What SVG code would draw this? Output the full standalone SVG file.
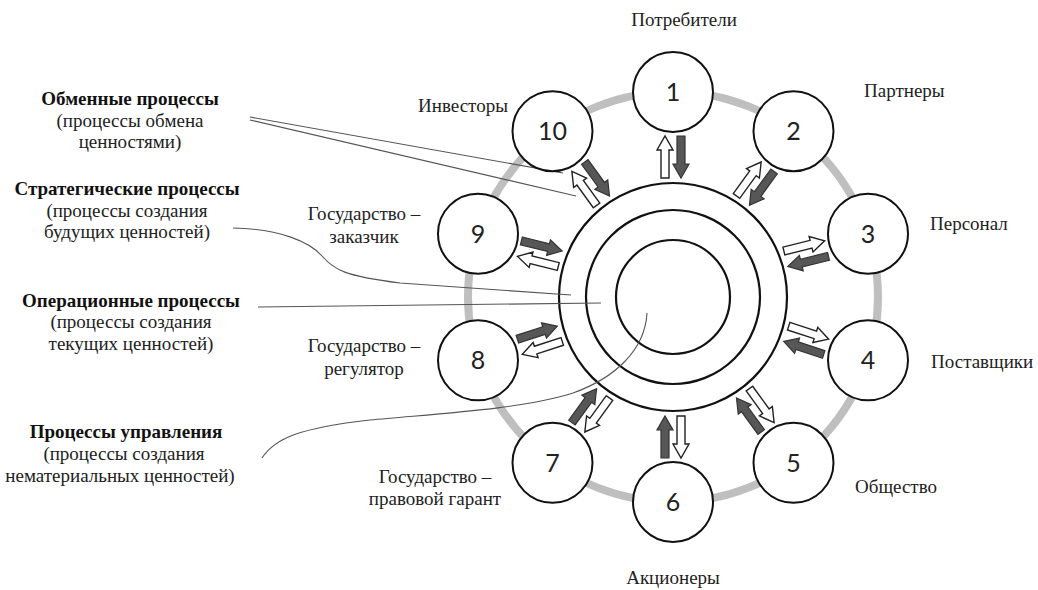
<svg xmlns="http://www.w3.org/2000/svg" xmlns:xlink="http://www.w3.org/1999/xlink" width="1038" height="590" viewBox="0 0 1038 590">
<style>
.lbl{font-family:"Liberation Serif","DejaVu Serif",serif;font-size:19px;font-weight:normal;fill:#222;text-anchor:middle}
.lbs{font-family:"Liberation Serif","DejaVu Serif",serif;font-size:19px;font-weight:normal;fill:#222;text-anchor:start}
.ttl{font-family:"Liberation Serif","DejaVu Serif",serif;font-size:19px;font-weight:bold;fill:#111;text-anchor:middle}
.num{font-family:Lato,"Liberation Sans",sans-serif;font-size:25px;fill:#222;text-anchor:middle}
.node{fill:#fff;stroke:#111;stroke-width:2}
.ring{fill:none;stroke:#111;stroke-width:2.2}
.lead{fill:none;stroke:#555;stroke-width:1.1}
.wa{fill:#fff;stroke:#222;stroke-width:1.4}
.da{fill:#575757;stroke:#333;stroke-width:1.2}
</style>
<defs>
<path id="arr" d="M-21,-4 L7,-4 L7,-8 L21,0 L7,8 L7,4 L-21,4 Z"/>
</defs>
<rect width="1038" height="590" fill="#fff"/>
<circle cx="673" cy="297" r="205" fill="none" stroke="#bfbfbf" stroke-width="8"/>
<g id="core">
<circle class="ring" cx="673" cy="297" r="114"/>
<circle class="ring" cx="673" cy="297" r="87"/>
<circle class="ring" cx="673" cy="297" r="57"/>
</g>
<g id="connectors">
<path class="lead" d="M250,117 L563,173"/>
<path class="lead" d="M250,120 L576,196"/>
<path class="lead" d="M233,228 C280,229 310,242 322,256 S345,276 400,283 L571,295"/>
<path class="lead" d="M258,307 L601,303"/>
<path class="lead" d="M262,458 C275,438 300,428 370,420 C430,414 520,410 573,393 C615,378 645,350 647,313"/>
<g id="arrows">
<use href="#arr" class="wa" transform="translate(673,157) rotate(-90) translate(0,-8)"/>
<use href="#arr" class="da" transform="translate(673,157) rotate(-90) translate(0,8) rotate(180)"/>
<use href="#arr" class="wa" transform="translate(755.3,183.7) rotate(-54) translate(0,-8)"/>
<use href="#arr" class="da" transform="translate(755.3,183.7) rotate(-54) translate(0,8) rotate(180)"/>
<use href="#arr" class="wa" transform="translate(806.2,253.7) rotate(-14) translate(0,-8)"/>
<use href="#arr" class="da" transform="translate(806.2,253.7) rotate(-14) translate(0,8) rotate(180)"/>
<use href="#arr" class="wa" transform="translate(806.2,340.3) rotate(18) translate(0,-8)"/>
<use href="#arr" class="da" transform="translate(806.2,340.3) rotate(18) translate(0,8) rotate(180)"/>
<use href="#arr" class="wa" transform="translate(755.3,410.3) rotate(54) translate(0,-8)"/>
<use href="#arr" class="da" transform="translate(755.3,410.3) rotate(54) translate(0,8) rotate(180)"/>
<use href="#arr" class="wa" transform="translate(673,437) rotate(90) translate(0,-8)"/>
<use href="#arr" class="da" transform="translate(673,437) rotate(90) translate(0,8) rotate(180)"/>
<use href="#arr" class="wa" transform="translate(590.7,410.3) rotate(126) translate(0,-8)"/>
<use href="#arr" class="da" transform="translate(590.7,410.3) rotate(126) translate(0,8) rotate(180)"/>
<use href="#arr" class="wa" transform="translate(539.8,340.3) rotate(162) translate(0,-8)"/>
<use href="#arr" class="da" transform="translate(539.8,340.3) rotate(162) translate(0,8) rotate(180)"/>
<use href="#arr" class="wa" transform="translate(539.8,253.7) rotate(194) translate(0,-8)"/>
<use href="#arr" class="da" transform="translate(539.8,253.7) rotate(194) translate(0,8) rotate(180)"/>
<use href="#arr" class="wa" transform="translate(590.7,183.7) rotate(234) translate(0,-8)"/>
<use href="#arr" class="da" transform="translate(590.7,183.7) rotate(234) translate(0,8) rotate(180)"/>
</g>
</g>
<g id="n1"><circle class="node" cx="673" cy="92" r="40"/><text class="num" x="673" y="101">1</text></g>
<g id="n2"><circle class="node" cx="793.5" cy="131.2" r="40"/><text class="num" x="793.5" y="140">2</text></g>
<g id="n3"><circle class="node" cx="868" cy="233.7" r="40"/><text class="num" x="868" y="243">3</text></g>
<g id="n4"><circle class="node" cx="868" cy="360.3" r="40"/><text class="num" x="868" y="369">4</text></g>
<g id="n5"><circle class="node" cx="793.5" cy="462.8" r="40"/><text class="num" x="793.5" y="472">5</text></g>
<g id="n6"><circle class="node" cx="673" cy="502" r="40"/><text class="num" x="673" y="511">6</text></g>
<g id="n7"><circle class="node" cx="552.5" cy="462.8" r="40"/><text class="num" x="552.5" y="472">7</text></g>
<g id="n8"><circle class="node" cx="478" cy="360.3" r="40"/><text class="num" x="478" y="369">8</text></g>
<g id="n9"><circle class="node" cx="478" cy="233.7" r="40"/><text class="num" x="478" y="243">9</text></g>
<g id="n10"><circle class="node" cx="552.5" cy="131.2" r="40"/><text class="num" x="552.5" y="140">10</text></g>
<g id="stakeholders">
<text class="lbl" x="684" y="26">Потребители</text>
<text class="lbs" x="864" y="97">Партнеры</text>
<text class="lbs" x="930" y="230">Персонал</text>
<text class="lbs" x="931" y="368">Поставщики</text>
<text class="lbs" x="855" y="493">Общество</text>
<text class="lbl" x="673" y="584">Акционеры</text>
<text class="lbl" x="435" y="483">Государство –</text>
<text class="lbl" x="435" y="505">правовой гарант</text>
<text class="lbl" x="364" y="352">Государство –</text>
<text class="lbl" x="364" y="375">регулятор</text>
<text class="lbl" x="364" y="220">Государство –</text>
<text class="lbl" x="364" y="243">заказчик</text>
<text class="lbl" x="463" y="112">Инвесторы</text>
</g>
<g id="processes">
<text class="ttl" x="130" y="105">Обменные процессы</text>
<text class="lbl" x="130" y="127">(процессы обмена</text>
<text class="lbl" x="130" y="148">ценностями)</text>
<text class="ttl" x="127" y="195">Стратегические процессы</text>
<text class="lbl" x="127" y="217">(процессы создания</text>
<text class="lbl" x="127" y="238">будущих ценностей)</text>
<text class="ttl" x="131" y="307">Операционные процессы</text>
<text class="lbl" x="131" y="328">(процессы создания</text>
<text class="lbl" x="131" y="350">текущих ценностей)</text>
<text class="ttl" x="126" y="438">Процессы управления</text>
<text class="lbl" x="124" y="460">(процессы создания</text>
<text class="lbl" x="120" y="482">нематериальных ценностей)</text>
</g>
</svg>
